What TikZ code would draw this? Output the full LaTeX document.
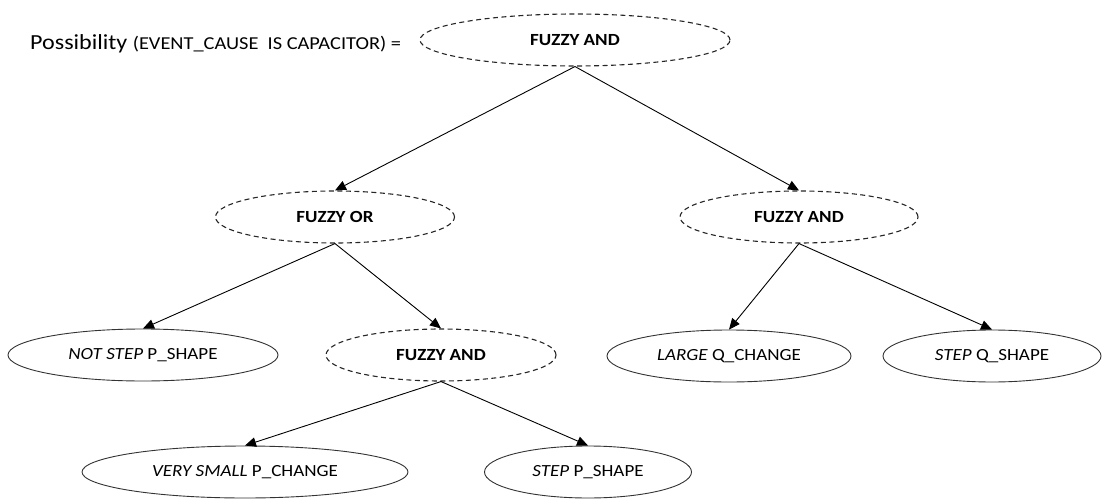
\documentclass[tikz,border=0pt]{standalone}
\usepackage{fontspec}
\setmainfont{Carlito}[FakeStretch=1.12]
\usetikzlibrary{shapes.geometric,arrows.meta}
\begin{document}
\begin{tikzpicture}[x=1pt,y=-1pt,
  oval/.style={ellipse,draw=black!80,line width=0.9pt,inner sep=0pt,
    minimum height=52pt,font=\fontsize{17}{20}\selectfont},
  gate/.style={oval,draw=black!85,line width=1.1pt,dash pattern=on 5pt off 3.5pt,
    font=\fontsize{17}{20}\selectfont\bfseries},
  link/.style={-{Triangle[length=11pt,width=9.5pt]},line width=0.9pt}]
\useasboundingbox (0,0) rectangle (1102,500);

% heading to the left of the root gate
\node[anchor=base west,inner sep=0pt] (title) at (30,50)
  {\fontsize{21.5}{26}\selectfont Possibility {\fontsize{18.2}{22}\selectfont(EVENT\_CAUSE\ \ IS CAPACITOR) =}};

% gates (dashed) and leaf conditions (solid)
\node[gate,minimum width=310pt] (root) at (575,40) {FUZZY AND};
\node[gate,minimum width=239pt] (or) at (335,217) {FUZZY OR};
\node[gate,minimum width=238pt] (andr) at (799,217) {FUZZY AND};
\node[oval,minimum width=270pt] (notstep) at (143,355) {\textit{NOT STEP} P\_SHAPE};
\node[gate,minimum width=230pt] (andm) at (441,355) {FUZZY AND};
\node[oval,minimum width=244pt] (large) at (729,356) {\textit{LARGE} Q\_CHANGE};
\node[oval,minimum width=218pt] (stepq) at (992,356) {\textit{STEP} Q\_SHAPE};
\node[oval,minimum width=326pt] (vsmall) at (245,472) {\textit{VERY SMALL} P\_CHANGE};
\node[oval,minimum width=207pt] (stepp) at (588,472) {\textit{STEP} P\_SHAPE};

\draw[link] (root.south) -- (or.north);
\draw[link] (root.south) -- (andr.north);
\draw[link] (or.south) -- (notstep.north);
\draw[link] (or.south) -- (andm.north);
\draw[link] (andr.south) -- (large.north);
\draw[link] (andr.south) -- (stepq.north);
\draw[link] (andm.south) -- (vsmall.north);
\draw[link] (andm.south) -- (stepp.north);
\end{tikzpicture}
\end{document}
